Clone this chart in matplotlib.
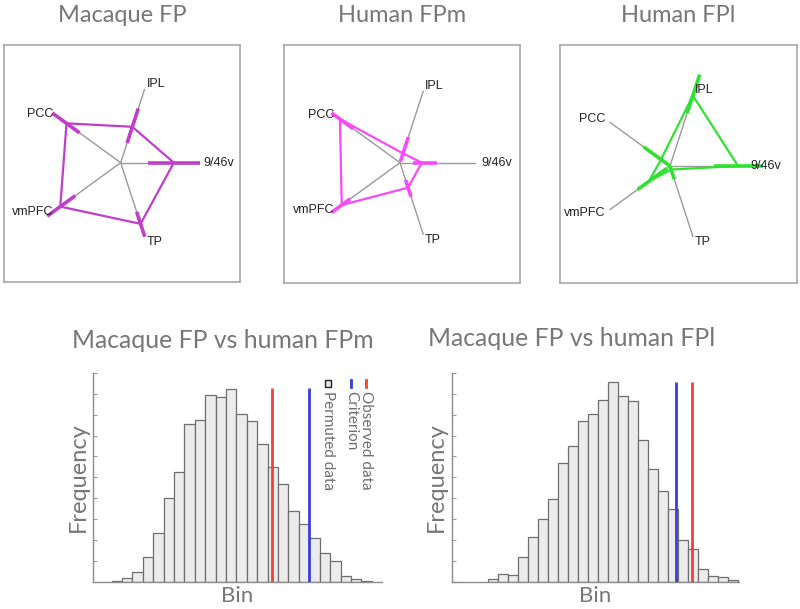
import numpy as np
import matplotlib
matplotlib.use('Agg')
import matplotlib.pyplot as plt
from matplotlib.patches import Rectangle

# ---------------- data ----------------
regions = ['9/46v', 'IPL', 'PCC', 'vmPFC', 'TP']
angles_deg = [0, 72, 144, 216, 288]

macaque_fp = [0.69, 0.49, 0.87, 0.97, 0.835]
macaque_fp_lo = [0.36, 0.27, 0.66, 0.73, 0.67]
macaque_fp_hi = [1.03, 0.74, 1.10, 1.18, 1.01]

human_fpm = [0.29, 0.13, 0.99, 0.96, 0.35]
human_fpm_lo = [0.18, 0.02, 0.77, 0.82, 0.24]
human_fpm_hi = [0.49, 0.36, 1.13, 1.13, 0.48]

human_fpl = [0.92, 1.00, 0.15, 0.35, 0.05]
human_fpl_lo = [0.60, 0.75, 0.00, 0.05, 0.00]
human_fpl_hi = [1.26, 1.30, 0.44, 0.54, 0.19]

hist_fpm_counts = [5, 16, 48, 120, 232, 400, 528, 757, 773, 893, 883, 925, 803,
                   768, 659, 549, 469, 339, 275, 211, 136, 99, 29, 13, 5]
hist_fpl_counts = [11, 35, 32, 120, 213, 299, 395, 568, 648, 768, 803, 869, 957,
                   888, 864, 680, 539, 435, 349, 200, 158, 59, 27, 21, 8]
fpm_observed, fpm_criterion = 14.88, 18.47
fpl_observed, fpl_criterion = 19.93, 18.33

W, H = 800, 609
fig = plt.figure(figsize=(W / 100, H / 100), dpi=100)

TITLE_FONT = ['Lato', 'DejaVu Sans']
TITLE_COLOR = '#777777'


def px_axes(x0, y0, x1, y1):
    return fig.add_axes([x0 / W, 1 - y1 / H, (x1 - x0) / W, (y1 - y0) / H])


def radar(box, center, L, vals, lo, hi, color):
    x0, y0, x1, y1 = box
    cx, cy = center
    ax = px_axes(x0, y0, x1, y1)
    ax.set_xlim((x0 - cx) / L, (x1 - cx) / L)
    ax.set_ylim((cy - y1) / L, (cy - y0) / L)
    ax.set_xticks([])
    ax.set_yticks([])
    for s in ax.spines.values():
        s.set_color('#a8a8a8')
        s.set_linewidth(1.2)
    th = np.deg2rad(angles_deg)
    ux, uy = np.cos(th), np.sin(th)
    for i in range(len(regions)):
        ax.plot([0, ux[i]], [0, uy[i]], color='#9a9a9a', lw=1.0, zorder=1)
        r = 1.08
        ha = 'right' if angles_deg[i] in (144, 216) else 'left'
        ax.text(ux[i] * r, uy[i] * r, regions[i], ha=ha, va='center',
                fontsize=9, family=['Liberation Sans', 'DejaVu Sans'],
                color='#222222', zorder=4)
    v = np.array(vals)
    px = np.append(v * ux, v[0] * ux[0])
    py = np.append(v * uy, v[0] * uy[0])
    ax.plot(px, py, color=color, lw=1.6, zorder=3, solid_joinstyle='miter')
    for i in range(len(regions)):
        ax.plot([lo[i] * ux[i], hi[i] * ux[i]], [lo[i] * uy[i], hi[i] * uy[i]],
                color=color, lw=2.6, zorder=2, solid_capstyle='butt')
    return ax


radar((4, 45, 240, 282), (120.7, 162.7), 77, macaque_fp, macaque_fp_lo, macaque_fp_hi, '#c03ec8')
radar((284, 45, 520, 283), (400, 162.7), 75, human_fpm, human_fpm_lo, human_fpm_hi, '#f84af8')
radar((560, 45, 797, 283), (670, 166), 74, human_fpl, human_fpl_lo, human_fpl_hi, '#2fe22f')

for x, y, t, fs in [(122, 15, 'Macaque FP', 17), (402, 15, 'Human FPm', 17), (678, 15, 'Human FPl', 17),
                    (222.5, 341, 'Macaque FP vs human FPm', 17.8),
                    (571.5, 338, 'Macaque FP vs human FPl', 17.8)]:
    fig.text(x / W, 1 - y / H, t, ha='center', va='center', fontsize=fs,
             family=TITLE_FONT, color=TITLE_COLOR)


def hist(box, counts, xlim, observed, criterion, line_top):
    x0, y0, x1, y1 = box
    ax = px_axes(x0, y0, x1, y1)
    bins = np.arange(len(counts))
    ax.bar(bins, counts, width=1.0, color='#ececec', edgecolor='#6e6e6e', linewidth=0.9, zorder=2)
    ax.vlines([observed], 0, line_top, color='#f04040', lw=2.0, zorder=3)
    ax.vlines([criterion], 0, line_top, color='#3b3be0', lw=2.0, zorder=3)
    ax.set_xlim(*xlim)
    ax.set_ylim(0, 1000)
    ax.set_yticks(np.arange(0, 1001, 100))
    ax.set_yticklabels([])
    ax.set_xticks([])
    ax.tick_params(axis='y', direction='in', length=3, color='#9a9a9a', width=0.8)
    for side in ('top', 'right'):
        ax.spines[side].set_visible(False)
    for side in ('left', 'bottom'):
        ax.spines[side].set_color('#8c8c8c')
        ax.spines[side].set_linewidth(1.0)
    ax.set_xlabel('Bin', fontsize=16, family=TITLE_FONT, color=TITLE_COLOR, labelpad=3)
    ax.set_ylabel('Frequency', fontsize=17, family=TITLE_FONT, color=TITLE_COLOR, labelpad=0)
    return ax


ax1 = hist((93.3, 373, 381.7, 581.7), hist_fpm_counts, (-2.26, 25.46),
           fpm_observed, fpm_criterion, 928)
ax2 = hist((451.7, 373, 739, 581.7), hist_fpl_counts, (-4.17, 24.6),
           fpl_observed, fpl_criterion, 958)

# rotated legend in first histogram
leg_items = [('Observed data', 0.946, '#f04040'), ('Criterion', 0.894, '#3b3be0'),
             ('Permuted data', 0.814, None)]
for label, xa, col in leg_items:
    if col is not None:
        ax1.plot([xa, xa], [0.934, 0.966], color=col, lw=2, transform=ax1.transAxes,
                 clip_on=False, zorder=5)
    else:
        ax1.add_patch(Rectangle((xa - 0.011, 0.934), 0.022, 0.032, transform=ax1.transAxes,
                                facecolor='#e6e6e6', edgecolor='#222222', lw=1.0,
                                clip_on=False, zorder=5))
    ax1.text(xa, 0.912, label, rotation=270, ha='center', va='top', fontsize=11,
             family=TITLE_FONT, color='#6e6e6e', transform=ax1.transAxes, zorder=5)

fig.savefig('out.png', dpi=100)
